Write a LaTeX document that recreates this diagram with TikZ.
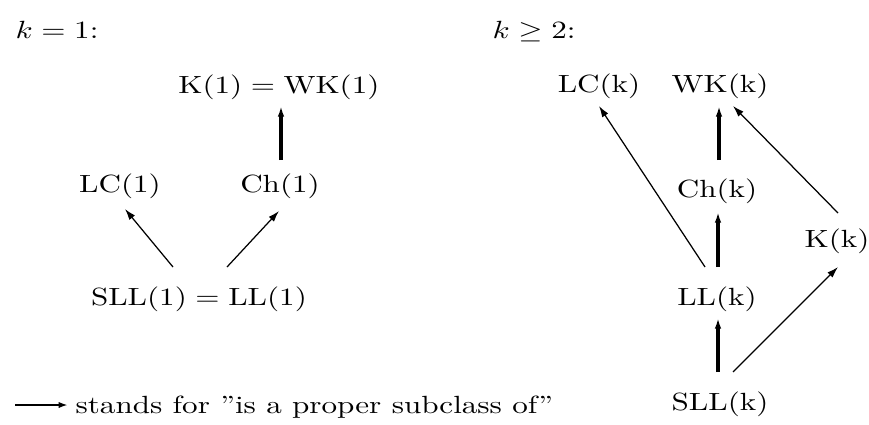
\documentclass[tikz,border=0pt]{standalone}
\usepackage{graphicx}
\usetikzlibrary{arrows.meta}
\newcommand{\tx}[1]{\scalebox{1}[0.8]{#1}}
\begin{document}
\begin{tikzpicture}[x=0.3215pt, y=-0.3215pt,
  lbl/.style={inner sep=0pt, anchor=base},
  lblw/.style={inner sep=0pt, anchor=base west},
  thinarrow/.style={-{Latex[length=3.6pt,width=2.3pt]}, line width=0.4pt},
  thickarrow/.style={-{Latex[length=3.4pt,width=2.1pt]}, line width=1.1pt},
  legarrow/.style={-{Latex[length=3pt,width=2pt]}, line width=0.6pt},
]
\useasboundingbox (0,0) rectangle (869,424);

% labels
\node[lblw] (k1) at (15,38) {\tx{$k = 1$:}};
\node[lblw] (k2) at (492,38) {\tx{$k \geq 2$:}};

% k = 1
\node[lbl] (kw1) at (279,93) {\tx{$\mathrm{K(1) = WK(1)}$}};
\node[lbl] (lc1) at (120,192) {\tx{LC(1)}};
\node[lbl] (ch1) at (280,192) {\tx{Ch(1)}};
\node[lbl] (sll1) at (199,305) {\tx{$\mathrm{SLL(1) = LL(1)}$}};

\draw[thickarrow] ([shift={(1,-32)}]ch1.base) -- ([shift={(2,13)}]kw1.base);
\draw[thinarrow] ([shift={(-26,-38)}]sll1.base) -- ([shift={(5,17)}]lc1.base);
\draw[thinarrow] ([shift={(28,-38)}]sll1.base) -- ([shift={(-1,19)}]ch1.base);

% k >= 2
\node[lbl] (lck) at (599,92) {\tx{LC(k)}};
\node[lbl] (wkk) at (720,92) {\tx{WK(k)}};
\node[lbl] (chk) at (717,197) {\tx{Ch(k)}};
\node[lbl] (kk) at (837,247) {\tx{K(k)}};
\node[lbl] (llk) at (717,305) {\tx{LL(k)}};
\node[lbl] (sllk) at (720,410) {\tx{SLL(k)}};

\draw[thickarrow] ([shift={(2,-37)}]chk.base) -- ([shift={(-1,14)}]wkk.base);
\draw[thickarrow] ([shift={(1,-38)}]llk.base) -- ([shift={(1,15)}]chk.base);
\draw[thickarrow] ([shift={(-2,-38)}]sllk.base) -- ([shift={(1,13)}]llk.base);
\draw[thinarrow] ([shift={(-12,-38)}]llk.base) -- ([shift={(0,14)}]lck.base);
\draw[thinarrow] ([shift={(1,-34)}]kk.base) -- ([shift={(13,14)}]wkk.base);
\draw[thinarrow] ([shift={(13,-38)}]sllk.base) -- ([shift={(1,20)}]kk.base);

% legend
\node[lblw] (leg) at (75,413) {\tx{stands for ”is a proper subclass of”}};
\coordinate (legs) at (15,405);
\draw[legarrow] (legs) -- ([shift={(-7,-8)}]leg.base west);
\end{tikzpicture}
\end{document}
